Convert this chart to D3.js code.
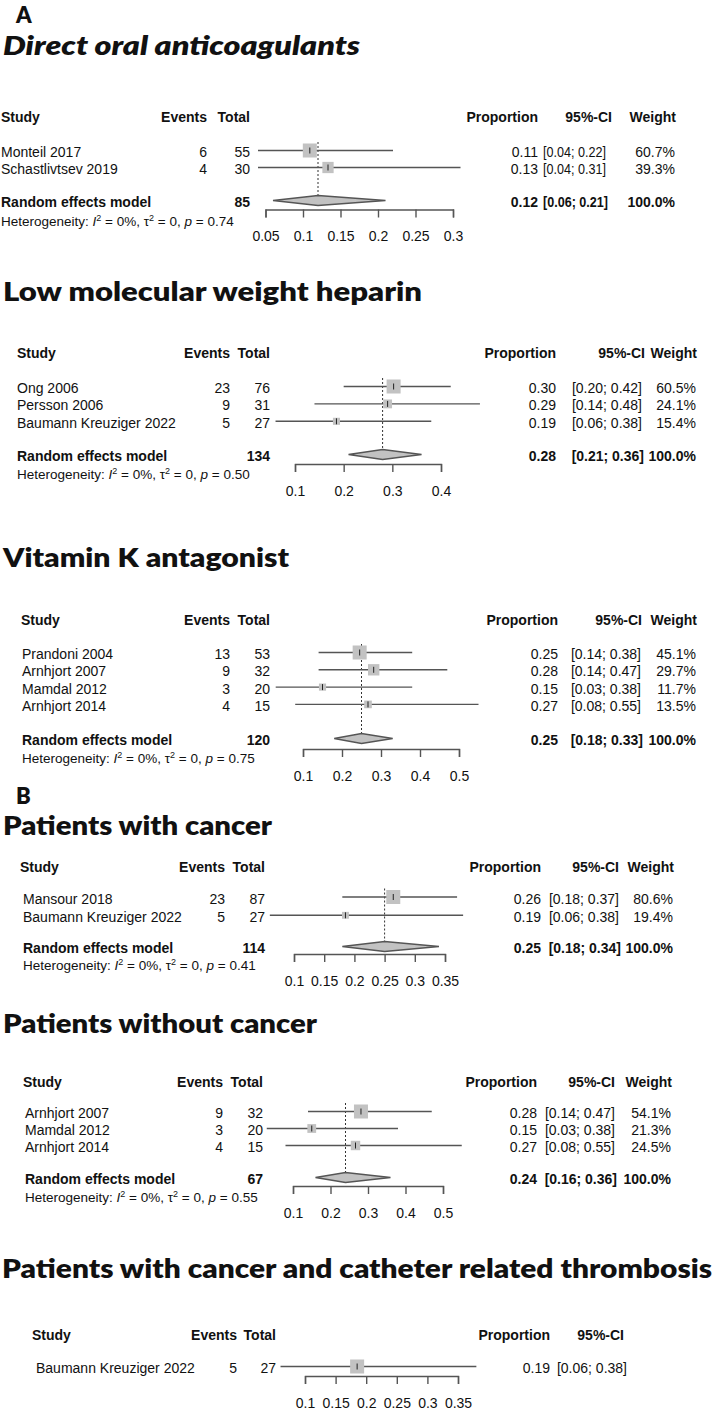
<!DOCTYPE html>
<meta charset="utf-8">
<style>

body { margin: 0; background: #fff; }

svg text {
  font-family: "Liberation Sans", Arial, Helvetica, sans-serif;
  fill: #111;
}

.title {
  font-family: Lato, "Open Sans", sans-serif;
  font-weight: 800;
}

.ci { stroke: #555; stroke-width: 1.4px; }
.sq { fill: #c2c2c2; }
.est { stroke: #222; stroke-width: 1px; }
.diamond { fill: #c2c2c2; stroke: #555; stroke-width: 1.3px; }
.ref { stroke: #333; stroke-width: 1px; stroke-dasharray: 2,2; }

</style>
<svg width="714" height="1410"></svg>
<script src="https://d3js.org/d3.v7.min.js"></script>
<script>

// ---- data ----

// A: direct oral anticoagulants
var doacStudy  = ["Monteil 2017", "Schastlivtsev 2019"];
var doacEvents = [6, 4];
var doacTotal  = [55, 30];
var doacCI     = [[0.04, 0.22], [0.04, 0.31]];
var doacWeight = [60.7, 39.3];
var doacPooled = [0.12, 0.06, 0.21];   // estimate, lower, upper
var doacHetP   = "0.74";
var doacTicks  = [0.05, 0.1, 0.15, 0.2, 0.25, 0.3];

// A: low molecular weight heparin
var lmwhStudy  = ["Ong 2006", "Persson 2006", "Baumann Kreuziger 2022"];
var lmwhEvents = [23, 9, 5];
var lmwhTotal  = [76, 31, 27];
var lmwhCI     = [[0.20, 0.42], [0.14, 0.48], [0.06, 0.38]];
var lmwhWeight = [60.5, 24.1, 15.4];
var lmwhPooled = [0.28, 0.21, 0.36];
var lmwhHetP   = "0.50";
var lmwhTicks  = [0.1, 0.2, 0.3, 0.4];

// A: vitamin K antagonist
var vkaStudy  = ["Prandoni 2004", "Arnhjort 2007", "Mamdal 2012", "Arnhjort 2014"];
var vkaEvents = [13, 9, 3, 4];
var vkaTotal  = [53, 32, 20, 15];
var vkaCI     = [[0.14, 0.38], [0.14, 0.47], [0.03, 0.38], [0.08, 0.55]];
var vkaWeight = [45.1, 29.7, 11.7, 13.5];
var vkaPooled = [0.25, 0.18, 0.33];
var vkaHetP   = "0.75";
var vkaTicks  = [0.1, 0.2, 0.3, 0.4, 0.5];

// B: patients with cancer
var cancStudy  = ["Mansour 2018", "Baumann Kreuziger 2022"];
var cancEvents = [23, 5];
var cancTotal  = [87, 27];
var cancCI     = [[0.18, 0.37], [0.06, 0.38]];
var cancWeight = [80.6, 19.4];
var cancPooled = [0.25, 0.18, 0.34];
var cancHetP   = "0.41";
var cancTicks  = [0.1, 0.15, 0.2, 0.25, 0.3, 0.35];

// B: patients without cancer
var noncStudy  = ["Arnhjort 2007", "Mamdal 2012", "Arnhjort 2014"];
var noncEvents = [9, 3, 4];
var noncTotal  = [32, 20, 15];
var noncCI     = [[0.14, 0.47], [0.03, 0.38], [0.08, 0.55]];
var noncWeight = [54.1, 21.3, 24.5];
var noncPooled = [0.24, 0.16, 0.36];
var noncHetP   = "0.55";
var noncTicks  = [0.1, 0.2, 0.3, 0.4, 0.5];

// B: cancer and catheter related thrombosis (single study)
var crtStudy  = ["Baumann Kreuziger 2022"];
var crtEvents = [5];
var crtTotal  = [27];
var crtCI     = [[0.06, 0.38]];
var crtWeight = [100];
var crtTicks  = [0.1, 0.15, 0.2, 0.25, 0.3, 0.35];

var pooledWeight = 100.0;

// ---- layout of each panel ----
var panels = [
  { title: "Direct oral anticoagulants", italic: true, titleX: 3, titleY: 55, titleW: 357,
    study: doacStudy, events: doacEvents, total: doacTotal, ci: doacCI, weight: doacWeight,
    pooled: doacPooled, hetP: doacHetP, ticks: doacTicks,
    studyX: 1, indent: 0, eventsX: 207, totalX: 250, xRange: [265.5, 453],
    propX: 538, ciX: 606, ciHX: 612, wX: 675, ciW: 63,
    headY: 117, row0: 152, step: 17, sumY: 202, hetY: 221, axisY: 209.5 },
  { title: "Low molecular weight heparin", titleX: 3, titleY: 301, titleW: 419,
    study: lmwhStudy, events: lmwhEvents, total: lmwhTotal, ci: lmwhCI, weight: lmwhWeight,
    pooled: lmwhPooled, hetP: lmwhHetP, ticks: lmwhTicks,
    studyX: 17, indent: 0, eventsX: 230, totalX: 270, xRange: [295, 441],
    propX: 556, ciX: 642, ciHX: 645, wX: 696,
    headY: 353, row0: 388, step: 17.4, sumY: 456, hetY: 474, axisY: 464 },
  { title: "Vitamin K antagonist", titleX: 3, titleY: 567, titleW: 286,
    study: vkaStudy, events: vkaEvents, total: vkaTotal, ci: vkaCI, weight: vkaWeight,
    pooled: vkaPooled, hetP: vkaHetP, ticks: vkaTicks,
    studyX: 21, indent: 1, eventsX: 230, totalX: 270, xRange: [303, 459],
    propX: 558, ciX: 641, ciHX: 642, wX: 696,
    headY: 620, row0: 654, step: 17.3, sumY: 740, hetY: 758, axisY: 749 },
  { title: "Patients with cancer", titleX: 3, titleY: 835, titleW: 269,
    study: cancStudy, events: cancEvents, total: cancTotal, ci: cancCI, weight: cancWeight,
    pooled: cancPooled, hetP: cancHetP, ticks: cancTicks,
    studyX: 20, indent: 3, eventsX: 225, totalX: 265, xRange: [294, 445],
    propX: 541, ciX: 619, ciHX: 619, wX: 673,
    headY: 867, row0: 898.5, step: 18.3, sumY: 948, hetY: 965, axisY: 954 },
  { title: "Patients without cancer", titleX: 3, titleY: 1033, titleW: 314,
    study: noncStudy, events: noncEvents, total: noncTotal, ci: noncCI, weight: noncWeight,
    pooled: noncPooled, hetP: noncHetP, ticks: noncTicks,
    studyX: 23, indent: 2, eventsX: 223, totalX: 263, xRange: [293, 443],
    propX: 537, ciX: 615, ciHX: 615, wX: 671,
    headY: 1082, row0: 1113, step: 17, sumY: 1179, hetY: 1197, axisY: 1186 },
  { title: "Patients with cancer and catheter related thrombosis", titleX: 2, titleY: 1278, titleW: 710,
    study: crtStudy, events: crtEvents, total: crtTotal, ci: crtCI, weight: crtWeight,
    pooled: null, ticks: crtTicks,
    studyX: 32, indent: 4, eventsX: 237, totalX: 276, xRange: [305, 458],
    propX: 550, ciX: 627, ciHX: 624, wX: null,
    headY: 1335, row0: 1368, step: 17, axisY: 1376 }
];

var svg = d3.select("svg");

var f2 = d3.format(".2f");
var f1 = d3.format(".1f");
function ciText(lo, hi) { return "[" + f2(lo) + "; " + f2(hi) + "]"; }

// panel letters
svg.append("text").attr("class", "title").attr("x", 16).attr("y", 23)
  .attr("font-size", 22).text("A");
svg.append("text").attr("class", "title").attr("x", 16).attr("y", 804)
  .attr("font-size", 22).text("B");

function txt(g, x, y, s, anchor, bold, size) {
  return g.append("text")
    .attr("x", x).attr("y", y)
    .attr("text-anchor", anchor || "start")
    .attr("font-weight", bold ? "bold" : null)
    .attr("font-size", size || 14)
    .text(s);
}

panels.forEach(function(p) {
  var g = svg.append("g");

  svg.append("text").attr("class", "title")
    .attr("x", p.titleX).attr("y", p.titleY)
    .attr("font-size", 27)
    .attr("font-style", p.italic ? "italic" : null)
    .attr("textLength", p.titleW)
    .attr("lengthAdjust", "spacingAndGlyphs")
    .text(p.title);

  var x = d3.scaleLinear().domain(d3.extent(p.ticks)).range(p.xRange);
  var y = d3.scalePoint().domain(p.study)
    .range([p.row0, p.row0 + p.step * (p.study.length - 1)]);
  var size = d3.scaleSqrt().domain([0, d3.max(p.weight)]).range([0, 14]);

  var rows = p.study.map(function(s, i) {
    return { study: s, ev: p.events[i], n: p.total[i], est: p.events[i] / p.total[i],
             lo: p.ci[i][0], hi: p.ci[i][1], w: p.weight[i] };
  });

  // CI column is a little narrower in the first panel
  function ciCol(t, w) {
    if (p.ciW) t.attr("textLength", w).attr("lengthAdjust", "spacingAndGlyphs");
  }

  // header
  txt(g, p.studyX, p.headY + 5, "Study", "start", true);
  txt(g, p.eventsX, p.headY + 5, "Events", "end", true);
  txt(g, p.totalX, p.headY + 5, "Total", "end", true);
  txt(g, p.propX, p.headY + 5, "Proportion", "end", true);
  txt(g, p.ciHX, p.headY + 5, "95%-CI", "end", true);
  if (p.wX) txt(g, p.wX + 1, p.headY + 5, "Weight", "end", true);

  // dotted line at pooled estimate
  if (p.pooled) {
    g.append("line").attr("class", "ref")
      .attr("x1", x(p.pooled[0])).attr("x2", x(p.pooled[0]))
      .attr("y1", p.row0 - 10).attr("y2", p.sumY - 6.5);
  }

  var r = g.selectAll(".row").data(rows).enter().append("g").attr("class", "row");
  r.append("line").attr("class", "ci")
    .attr("x1", function(d) { return x(d.lo); })
    .attr("x2", function(d) { return x(d.hi); })
    .attr("y1", function(d) { return y(d.study) - 1.5; })
    .attr("y2", function(d) { return y(d.study) - 1.5; });
  r.append("rect").attr("class", "sq")
    .attr("x", function(d) { return x(d.est) - size(d.w) / 2; })
    .attr("y", function(d) { return y(d.study) - 1.5 - size(d.w) / 2; })
    .attr("width", function(d) { return size(d.w); })
    .attr("height", function(d) { return size(d.w); });
  r.append("line").attr("class", "est")
    .attr("x1", function(d) { return x(d.est); })
    .attr("x2", function(d) { return x(d.est); })
    .attr("y1", function(d) { return y(d.study) - 4.5; })
    .attr("y2", function(d) { return y(d.study) + 1.5; });

  rows.forEach(function(d) {
    var yy = y(d.study) + 5;
    txt(g, p.studyX + p.indent, yy, d.study);
    txt(g, p.eventsX, yy, d.ev, "end");
    txt(g, p.totalX, yy, d.n, "end");
    txt(g, p.propX, yy, f2(d.est), "end");
    ciCol(txt(g, p.ciX, yy, ciText(d.lo, d.hi), "end"), p.ciW);
    if (p.wX) txt(g, p.wX, yy, f1(d.w) + "%", "end");
  });

  // pooled (random effects) row
  if (p.pooled) {
    var est = p.pooled[0], lo = p.pooled[1], hi = p.pooled[2], ym = p.sumY - 1.5;
    g.append("path").attr("class", "diamond")
      .attr("d", "M" + x(lo) + "," + ym + "L" + x(est) + "," + (ym - 5) +
                 "L" + x(hi) + "," + ym + "L" + x(est) + "," + (ym + 5) + "Z");
    var ys = p.sumY + 5;
    txt(g, p.studyX + p.indent, ys, "Random effects model", "start", true);
    txt(g, p.totalX, ys, d3.sum(p.total), "end", true);
    txt(g, p.propX, ys, f2(est), "end", true);
    ciCol(txt(g, p.ciX + 2, ys, ciText(lo, hi), "end", true), p.ciW + 2);
    txt(g, p.wX, ys, f1(pooledWeight) + "%", "end", true);

    var t = g.append("text").attr("x", p.studyX + p.indent).attr("y", p.hetY + 4.5)
      .attr("font-size", 13.5);
    t.append("tspan").text("Heterogeneity: ");
    t.append("tspan").attr("font-style", "italic").text("I");
    t.append("tspan").attr("font-size", 9).attr("dy", -5).text("2");
    t.append("tspan").attr("dy", 5).text(" = 0%, \u03c4");
    t.append("tspan").attr("font-size", 9).attr("dy", -5).text("2");
    t.append("tspan").attr("dy", 5).text(" = 0, ");
    t.append("tspan").attr("font-style", "italic").text("p");
    t.append("tspan").text(" = " + p.hetP);
  }

  // axis
  var ax = g.append("g")
    .attr("transform", "translate(0," + p.axisY + ")")
    .call(d3.axisBottom(x).tickValues(p.ticks).tickSize(8).tickPadding(14)
      .tickFormat(function(d) { return String(d); }));
  ax.select(".domain").attr("stroke", "#555").attr("stroke-width", 1.4);
  ax.selectAll(".tick line").attr("stroke", "#555").attr("stroke-width", 1.4);
  ax.selectAll(".tick text")
    .attr("font-family", "Liberation Sans, Arial, sans-serif")
    .attr("font-size", 14).attr("fill", "#222");
  ax.attr("font-family", null).attr("font-size", null);
});

</script>
